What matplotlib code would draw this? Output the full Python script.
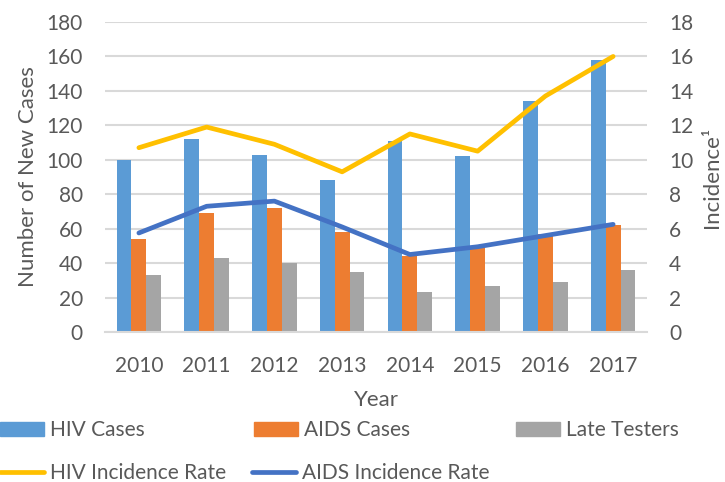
import matplotlib
matplotlib.use("Agg")
import matplotlib.pyplot as plt
import numpy as np
from matplotlib.patches import Patch
from matplotlib.lines import Line2D

years = ["2010", "2011", "2012", "2013", "2014", "2015", "2016", "2017"]
hiv_cases = [100, 112, 103, 88, 111, 102, 134, 158]
aids_cases = [54, 69, 72, 58, 44, 49, 57, 62]
late_testers = [33, 43, 40, 35, 23, 27, 29, 36]
hiv_rate = [10.7, 11.9, 10.9, 9.3, 11.5, 10.5, 13.7, 16.0]
aids_rate = [5.75, 7.3, 7.6, 6.1, 4.5, 4.95, 5.6, 6.25]

c_hiv = "#5B9BD5"
c_aids = "#ED7D31"
c_late = "#A5A5A5"
c_hivr = "#FFC000"
c_aidsr = "#4472C4"
txt = "#595959"
grid = "#D9D9D9"

plt.rcParams['font.family'] = ['Lato', 'DejaVu Sans']
fs = 15
lw = 3.4

fig = plt.figure(figsize=(7.25, 4.82), dpi=100)
ax = fig.add_axes([105/725, 1-332/482, 542/725, 310/482])
x = np.arange(len(years))
w = 0.22
ax.bar(x - w, hiv_cases, w, color=c_hiv, zorder=2)
ax.bar(x, aids_cases, w, color=c_aids, zorder=2)
ax.bar(x + w, late_testers, w, color=c_late, zorder=2)
ax.set_xlim(-0.5, len(years) - 0.5)
ax.set_ylim(0, 180)
ax.set_yticks(np.arange(0, 181, 20))
ax.set_xticks(x)
ax.set_xticklabels(years)
ax.yaxis.grid(True, color=grid, linewidth=1.5, zorder=0)
ax.set_axisbelow(True)
for s in ["top", "left", "right"]:
    ax.spines[s].set_visible(False)
ax.spines["bottom"].set_color(grid)
ax.spines["bottom"].set_linewidth(1.5)
ax.tick_params(axis="both", length=0, labelsize=fs, colors=txt)
ax.tick_params(axis="x", pad=17)
ax.tick_params(axis="y", pad=16)
ax.set_ylabel("Number of New Cases", fontsize=16, color=txt, labelpad=6)
ax.set_xlabel("Year", fontsize=16, color=txt, labelpad=10)

ax2 = ax.twinx()
ax2.plot(x, hiv_rate, color=c_hivr, linewidth=lw, solid_capstyle="round", solid_joinstyle="round", zorder=3)
ax2.plot(x, aids_rate, color=c_aidsr, linewidth=lw, solid_capstyle="round", solid_joinstyle="round", zorder=3)
ax2.set_ylim(0, 18)
ax2.set_yticks(np.arange(0, 19, 2))
for s in ["top", "left", "right", "bottom"]:
    ax2.spines[s].set_visible(False)
ax2.tick_params(axis="y", length=0, labelsize=fs, colors=txt, pad=16)
ax2.set_ylabel("Incidence¹", fontsize=16, color=txt, labelpad=6)

entries = [
    (Patch(color=c_hiv), "HIV Cases", 0, 430),
    (Patch(color=c_aids), "AIDS Cases", 254, 430),
    (Patch(color=c_late), "Late Testers", 516, 430),
    (Line2D([], [], color=c_hivr, lw=lw, solid_capstyle="round"), "HIV Incidence Rate", 0, 473),
    (Line2D([], [], color=c_aidsr, lw=lw, solid_capstyle="round"), "AIDS Incidence Rate", 252, 473),
]
for h, lab, px, py in entries:
    leg = fig.legend([h], [lab], loc="center left",
                     bbox_to_anchor=(px/725, 1-py/482), frameon=False,
                     fontsize=fs, handlelength=2.1, handletextpad=0.3,
                     borderpad=0, borderaxespad=0, handleheight=0.67)
    for t in leg.get_texts():
        t.set_color(txt)

fig.savefig("out.png", dpi=100)
